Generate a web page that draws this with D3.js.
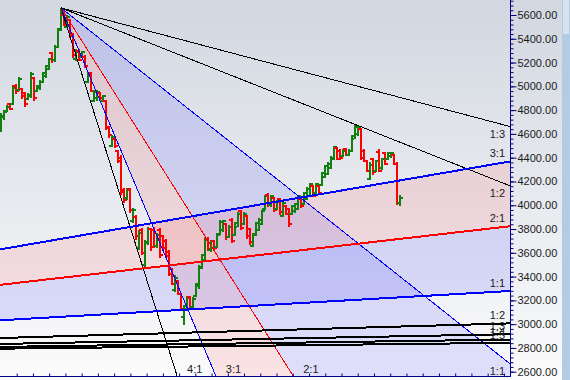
<!DOCTYPE html>
<html lang="en">
<head>
<meta charset="utf-8">
<script src="https://d3js.org/d3.v7.min.js"></script>
<style>
  body { margin: 0; background: #fff; }
  svg { display: block; font-family: "Liberation Sans", Arial, sans-serif; }
</style>
</head>
<body>
<script>
// daily bars (open / high / low / close)
const opens  = [4640,4740,4790,4850,4850,5000,4970,4980,4940,4890,4920,5070,4960,4990,5040,5090,5150,5280,5220,5330,
                5480,5600,5500,5560,5430,5230,5300,5250,5250,5040,5110,4880,4900,4940,4880,4880,4660,4500,4560,4460,
                4400,4130,4060,4140,3870,3900,3640,3790,3500,3680,3800,3790,3660,3790,3740,3700,3610,3460,3290,3360,
                3250,3060,3130,3230,3140,3240,3320,3470,3540,3720,3620,3700,3650,3760,3790,3840,3730,3880,3750,3820,
                3950,3840,3910,3800,3660,3750,3790,3840,3970,4090,4000,4060,3970,4050,3910,3990,3970,3930,3950,3970,
                4050,4010,4050,4080,4160,4100,4160,4170,4240,4260,4310,4390,4480,4460,4410,4470,4420,4460,4560,4600,
                4640,4460,4370,4220,4390,4290,4450,4310,4440,4390,4410,4420,4350,4020];
const highs  = [4775,4800,4840,4860,5010,5020,5080,4990,4950,4940,5120,5080,5010,5050,5120,5180,5240,5290,5350,5490,
                5660,5630,5600,5570,5450,5310,5310,5300,5260,5120,5120,4970,4970,4950,4930,4885,4670,4590,4570,4465,
                4420,4145,4145,4145,3980,3920,3790,3810,3710,3820,3810,3820,3770,3810,3750,3720,3620,3470,3410,3370,
                3260,3160,3240,3240,3230,3350,3500,3590,3730,3730,3710,3710,3770,3880,3880,3850,3830,3890,3860,3940,
                3960,3940,3920,3810,3770,3860,3890,3960,4090,4100,4090,4070,4040,4060,4040,4000,3980,4000,4020,4090,
                4060,4110,4150,4190,4170,4190,4170,4280,4340,4360,4410,4500,4490,4470,4470,4480,4470,4590,4680,4670,
                4650,4470,4380,4360,4400,4380,4470,4400,4450,4450,4450,4430,4360,4090];
const lows   = [4615,4715,4785,4800,4840,4940,4960,4900,4820,4880,4900,4880,4950,4970,5030,5070,5140,5200,5210,5320,
                5470,5500,5490,5410,5240,5210,5210,5240,5150,5030,4950,4870,4880,4880,4870,4630,4570,4490,4480,4355,
                4085,4020,4045,3935,3850,3710,3620,3580,3470,3670,3620,3640,3640,3560,3620,3560,3400,3330,3270,3240,
                3120,2990,3120,3120,3120,3230,3300,3460,3520,3610,3610,3620,3640,3750,3780,3710,3720,3680,3740,3810,
                3790,3830,3720,3670,3650,3740,3780,3830,3960,3980,3990,3940,3960,3920,3900,3920,3820,3920,3940,3960,
                3980,4000,4040,4070,4070,4090,4090,4160,4230,4250,4300,4380,4380,4380,4400,4410,4410,4450,4550,4590,
                4380,4360,4280,4210,4260,4280,4280,4300,4340,4380,4400,4340,4000,4000];
const closes = [4750,4780,4830,4810,4990,4960,5060,4920,4850,4930,5100,4900,5000,5040,5110,5170,5230,5220,5330,5470,
                5640,5520,5580,5420,5260,5290,5220,5290,5170,5100,4960,4950,4950,4900,4920,4650,4590,4570,4500,4370,
                4110,4040,4130,3960,3960,3740,3770,3600,3690,3800,3650,3660,3750,3580,3640,3570,3420,3340,3390,3250,
                3130,3150,3220,3140,3210,3340,3480,3580,3710,3630,3700,3640,3750,3860,3870,3730,3820,3700,3850,3930,
                3810,3930,3740,3690,3760,3850,3880,3950,4080,4000,4080,3960,4030,3940,4020,3930,3840,3990,4010,4080,
                3990,4100,4140,4180,4080,4180,4100,4270,4330,4350,4400,4490,4390,4400,4460,4420,4460,4580,4660,4660,
                4400,4370,4290,4340,4280,4370,4290,4390,4350,4440,4440,4350,4020,4060];

// price axis labels
const priceTicks = [2600, 2800, 3000, 3200, 3400, 3600, 3800, 4000, 4200, 4400, 4600, 4800, 5000, 5200, 5400, 5600];

// gann fan hung from the top (bar index, price, price per bar of the 1:1 line)
const topFanOrigin = [20, 5660];
const topFanUnit = 20;
const topFanRatios = ["4:1", "3:1", "2:1", "1:1", "1:2", "1:3"];

// gann fan rising from a low that sits left of the view
const lowFanOrigin = [-206, 2734];
const lowFanUnit = 1.45;
const lowFanRatios = ["3:1", "2:1", "1:1", "1:2", "1:3", "1:4", "1:5"];

const W = 570, H = 380;
const plotW = 510, plotH = 376;

const x = d3.scaleLinear().domain([0, closes.length - 1]).range([1, 400]);
const y = d3.scaleLinear().domain([2600, 5600]).range([371.7, 15]);

const svg = d3.select("body").append("svg")
    .attr("width", W)
    .attr("height", H);

const defs = svg.append("defs");
const grad = defs.append("linearGradient")
    .attr("id", "bg")
    .attr("x1", 0).attr("y1", 0).attr("x2", 0).attr("y2", 1);
grad.append("stop").attr("offset", "0%").attr("stop-color", "#d2d7e0");
grad.append("stop").attr("offset", "100%").attr("stop-color", "#fbfbfc");

defs.append("clipPath").attr("id", "plotClip")
    .append("rect").attr("width", plotW).attr("height", plotH);

svg.append("rect")
    .attr("width", W).attr("height", H)
    .attr("fill", "url(#bg)");

// scrollbar strip on the far right
svg.append("rect").attr("x", 562).attr("y", 0).attr("width", 8).attr("height", H).attr("fill", "#b4cbe4");
svg.append("rect").attr("x", 563).attr("y", 0).attr("width", 6).attr("height", 34).attr("fill", "#d4e2f1");

const plot = svg.append("g").attr("clip-path", "url(#plotClip)");

function ratioValue(r) {
    const p = r.split(":").map(Number);
    return p[0] / p[1];
}

const fans = [
    {origin: topFanOrigin, unit: topFanUnit, dir: -1, ratios: topFanRatios, width: 1, labelDy: 11},
    {origin: lowFanOrigin, unit: lowFanUnit, dir: 1, ratios: lowFanRatios, width: 2, labelDy: -4}
];

function fanPrice(fan, r, bar) {
    return fan.origin[1] + fan.dir * ratioValue(r) * fan.unit * (bar - fan.origin[0]);
}

const lineColour = {"3:1": "#0000ff", "2:1": "#ff0000", "1:1": "#0000ff"};
const line = d3.line().x(d => x(d[0])).y(d => y(d[1]));

// shaded wedges: 3:1 to 2:1 pink, 2:1 to 1:1 blue
fans.forEach(fan => {
    const far = fan.origin[0] + 2000;
    const wedges = [["3:1", "2:1", "rgba(255,70,70,0.13)"], ["2:1", "1:1", "rgba(70,70,255,0.15)"]];
    wedges.forEach(w => {
        const pts = [fan.origin, [far, fanPrice(fan, w[0], far)], [far, fanPrice(fan, w[1], far)]];
        plot.append("path")
            .attr("d", line(pts) + "Z")
            .attr("fill", w[2]);
    });
});

// OHLC bars
const bars = plot.append("g").attr("shape-rendering", "crispEdges");
closes.forEach((c, i) => {
    const col = c >= opens[i] ? "#108010" : "#ff0000";
    const cx = Math.round(x(i));
    const g = bars.append("g").attr("fill", col);
    g.append("rect")
        .attr("x", cx - 1).attr("width", 2)
        .attr("y", Math.round(y(highs[i])))
        .attr("height", Math.max(2, Math.round(y(lows[i]) - y(highs[i]))));
    g.append("rect")
        .attr("x", cx - 3).attr("width", 2)
        .attr("y", Math.round(y(opens[i])) - 1).attr("height", 2);
    g.append("rect")
        .attr("x", cx + 1).attr("width", 2)
        .attr("y", Math.round(y(c)) - 1).attr("height", 2);
});

// fan lines and their labels
const labels = svg.append("g")
    .attr("font-size", 11)
    .attr("fill", "#1a1a1a");

fans.forEach(fan => {
    const far = fan.origin[0] + 2000;
    fan.ratios.forEach(r => {
        plot.append("path")
            .attr("d", line([fan.origin, [far, fanPrice(fan, r, far)]]))
            .attr("fill", "none")
            .attr("stroke", lineColour[r] || "#000")
            .attr("stroke-width", fan.width)
            .attr("shape-rendering", "crispEdges");

        const yEnd = y(fanPrice(fan, r, x.invert(plotW)));
        if (yEnd >= 0 && yEnd <= plotH) {
            labels.append("text")
                .attr("x", 505).attr("y", yEnd + fan.labelDy)
                .attr("text-anchor", "end")
                .text(r);
        } else {
            const pBottom = y.invert(plotH);
            const bar = fan.origin[0] + (pBottom - fan.origin[1]) / (fan.dir * ratioValue(r) * fan.unit);
            labels.append("text")
                .attr("x", x(bar) + 10).attr("y", 373)
                .text(r);
        }
    });
});

// price axis on the right
const axisCol = "#000080";
svg.append("line")
    .attr("x1", plotW + 0.5).attr("x2", plotW + 0.5)
    .attr("y1", 0).attr("y2", plotH + 1)
    .attr("stroke", axisCol);

const minorTicks = d3.range(2600, 5801, 40);
const minor = svg.append("g")
    .attr("transform", "translate(" + (plotW + 0.5) + ",0)")
    .call(d3.axisRight(y).tickValues(minorTicks).tickSize(3).tickFormat(""));
minor.select(".domain").remove();
minor.selectAll("line").attr("stroke", axisCol);

const yAxis = svg.append("g")
    .attr("transform", "translate(" + (plotW + 0.5) + ",0)")
    .call(d3.axisRight(y).tickValues(priceTicks).tickSize(6).tickPadding(1).tickFormat(d3.format(".2f")));
yAxis.select(".domain").remove();
yAxis.selectAll("line").attr("stroke", axisCol);
yAxis.selectAll("text")
    .attr("font-family", "Liberation Sans, Arial, sans-serif")
    .attr("font-size", 11)
    .attr("fill", "#1a1a1a");

// time axis along the bottom, a tick every week
const weekTicks = d3.range((16.7 - 1) / 3, closes.length + 40, 16.24 / 3);
svg.append("line")
    .attr("x1", 0).attr("x2", plotW + 1)
    .attr("y1", plotH + 0.5).attr("y2", plotH + 0.5)
    .attr("stroke", axisCol);
const xAxis = svg.append("g")
    .attr("transform", "translate(0," + (plotH + 0.5) + ")")
    .call(d3.axisTop(x).tickValues(weekTicks.filter(b => x(b) < plotW)).tickSize(3).tickFormat(""));
xAxis.select(".domain").remove();
xAxis.selectAll("line").attr("stroke", axisCol);
</script>
</body>
</html>
